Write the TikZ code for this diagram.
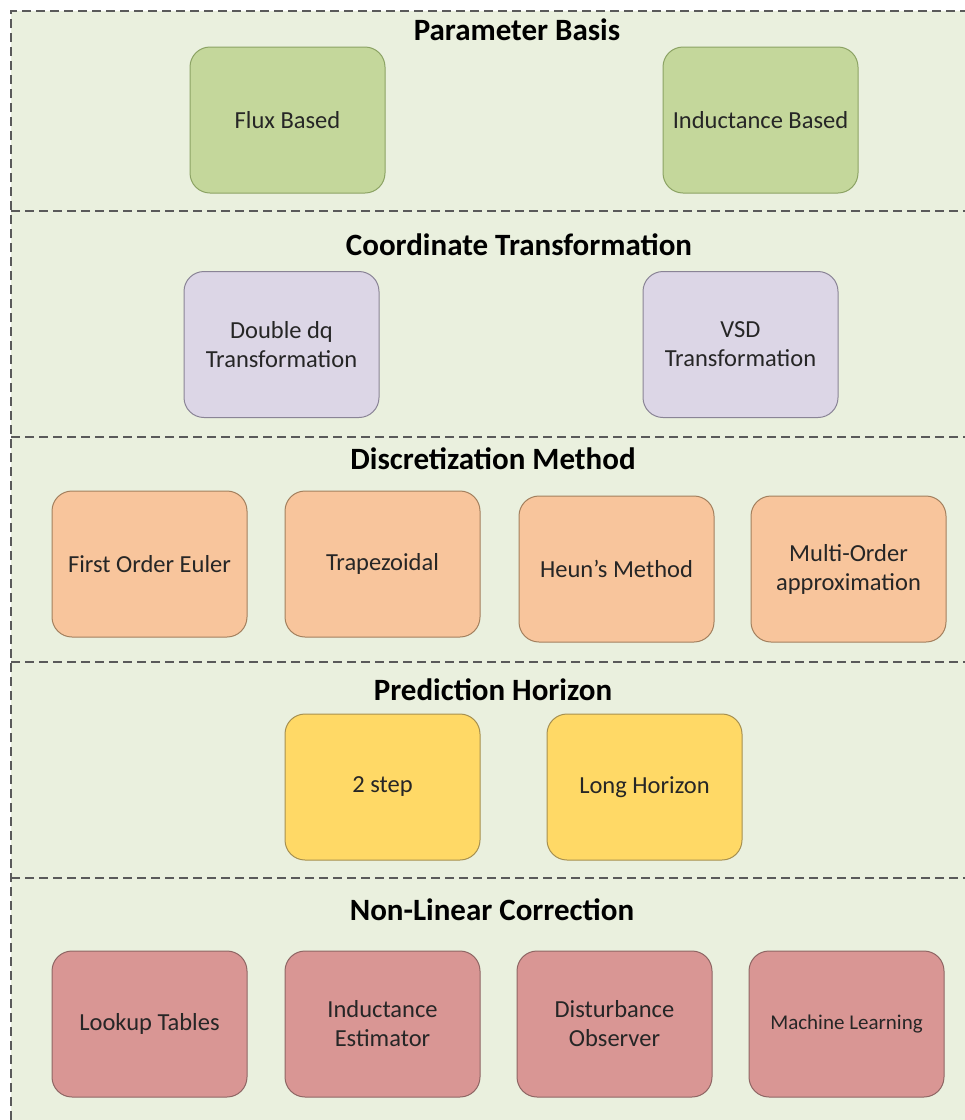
\documentclass[tikz,border=0pt]{standalone}
\usepackage{fontspec}
\setmainfont{Carlito}
\begin{document}
\definecolor{bandbg}{HTML}{EAF0DE}
\definecolor{sepline}{HTML}{5A5A5A}
\definecolor{greenfill}{HTML}{C4D79B}
\definecolor{greenedge}{HTML}{8CA364}
\definecolor{purplefill}{HTML}{DCD6E6}
\definecolor{purpleedge}{HTML}{8A8496}
\definecolor{orangefill}{HTML}{F8C59C}
\definecolor{orangeedge}{HTML}{A3805E}
\definecolor{yellowfill}{HTML}{FFD966}
\definecolor{yellowedge}{HTML}{A69050}
\definecolor{redfill}{HTML}{D99694}
\definecolor{rededge}{HTML}{8E6664}
\begin{tikzpicture}[x=1pt,y=-1pt,
  sep/.style={draw=sepline,line width=1.3pt,dash pattern=on 9pt off 5pt},
  title/.style={font=\fontsize{31}{36}\selectfont\bfseries,text=black},
  box/.style={rounded corners=20pt,line width=1pt,minimum width=195pt,minimum height=146pt,
    align=center,font=\fontsize{24.5}{29}\selectfont,text=black!85,inner sep=0pt},
  gbox/.style={box,fill=greenfill,draw=greenedge},
  pbox/.style={box,fill=purplefill,draw=purpleedge},
  obox/.style={box,fill=orangefill,draw=orangeedge},
  ybox/.style={box,fill=yellowfill,draw=yellowedge},
  rbox/.style={box,fill=redfill,draw=rededge}]
\useasboundingbox (0,0) rectangle (965,1120);
% background of the bands
\fill[bandbg] (11,11) rectangle (965,1120);
% dashed frame and separators
\draw[sep] (11,1120) -- (11,11) -- (965,11);
\draw[sep] (11,211) -- (965,211);
\draw[sep] (11,437) -- (965,437);
\draw[sep] (11,662) -- (965,662);
\draw[sep] (11,878) -- (965,878);

% Parameter basis
\node[title] (t1) at (517,30) {Parameter Basis};
\node[gbox] (flux) at (287.5,120) {Flux Based};
\node[gbox] (ind) at (760.5,120) {Inductance Based};

% Coordinate transformation
\node[title] (t2) at (519,245) {Coordinate Transformation};
\node[pbox] (ddq) at (281.5,344.5) {Double dq\\Transformation};
\node[pbox] (vsd) at (740.5,344.5) {VSD\\Transformation};

% Discretization method
\node[title] (t3) at (493,459) {Discretization Method};
\node[obox] (euler) at (149.5,564) {First Order Euler};
\node[obox] (trap) at (382.5,564) {Trapezoidal};
\node[obox] (heun) at (616.5,569) {Heun’s Method};
\node[obox] (multi) at (848.5,569) {Multi-Order\\approximation};

% Prediction horizon
\node[title] (t4) at (493,690) {Prediction Horizon};
\node[ybox] (two) at (382.5,787) {2 step};
\node[ybox] (long) at (644.5,787) {Long Horizon};

% Non-linear correction
\node[title] (t5) at (492,910) {Non-Linear Correction};
\node[rbox] (lut) at (149.5,1024) {Lookup Tables};
\node[rbox] (inde) at (382.5,1024) {Inductance\\Estimator};
\node[rbox] (dob) at (614.5,1024) {Disturbance\\Observer};
\node[rbox,font=\fontsize{21}{25}\selectfont] (ml) at (846.5,1024) {Machine Learning};
\end{tikzpicture}
\end{document}
